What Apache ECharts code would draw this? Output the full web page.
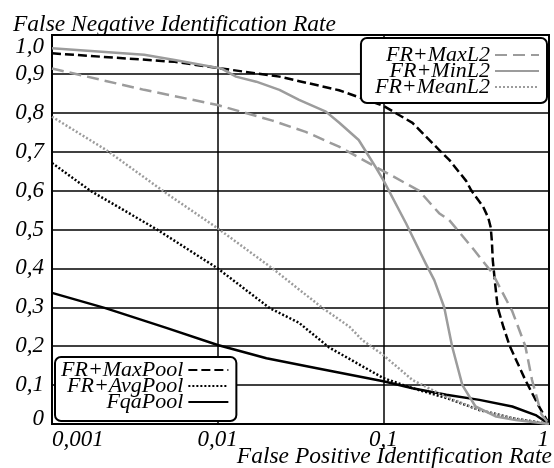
<!DOCTYPE html>
<html><head><meta charset="utf-8">
<script src="https://cdn.jsdelivr.net/npm/echarts@6/dist/echarts.min.js"></script>
<style>html,body{margin:0;padding:0;background:#fff}#c{width:554px;height:468px}</style>
</head><body><div id="c"></div>
<script>
// ---- data ----
const xTicks = [0.001, 0.01, 0.1, 1];
const yTicks = [0, 0.1, 0.2, 0.3, 0.4, 0.5, 0.6, 0.7, 0.8, 0.9, 1.0];

const maxPoolFpir = [0.001, 0.0055, 0.0105, 0.0236, 0.054, 0.1, 0.15, 0.226, 0.25, 0.316, 0.34, 0.40, 0.43, 0.445, 0.452, 0.458, 0.475, 0.49, 0.53, 0.58, 0.72, 0.87, 1];
const maxPoolFnir = [0.953, 0.931, 0.914, 0.893, 0.858, 0.818, 0.774, 0.697, 0.679, 0.625, 0.60, 0.559, 0.53, 0.505, 0.47, 0.42, 0.353, 0.30, 0.25, 0.2, 0.113, 0.045, 0];

const avgPoolFpir = [0.001, 0.0017, 0.0043, 0.01, 0.0206, 0.031, 0.047, 0.1, 0.15, 0.24, 0.38, 0.6, 1];
const avgPoolFnir = [0.671, 0.60, 0.50, 0.40, 0.298, 0.26, 0.197, 0.118, 0.092, 0.067, 0.036, 0.015, 0];

const fqaPoolFpir = [0.001, 0.0021, 0.0049, 0.01, 0.0197, 0.039, 0.1, 0.15, 0.24, 0.38, 0.6, 0.83, 1];
const fqaPoolFnir = [0.337, 0.298, 0.247, 0.203, 0.169, 0.144, 0.11, 0.092, 0.075, 0.062, 0.045, 0.023, 0];

const maxL2Fpir = [0.001, 0.0036, 0.01, 0.0214, 0.034, 0.054, 0.09, 0.164, 0.217, 0.25, 0.34, 0.455, 0.6, 0.72, 0.79, 0.9, 1];
const maxL2Fnir = [0.914, 0.859, 0.82, 0.78, 0.751, 0.713, 0.661, 0.60, 0.542, 0.524, 0.456, 0.388, 0.29, 0.2, 0.113, 0.025, 0];

const minL2Fpir = [0.001, 0.0036, 0.0055, 0.0105, 0.0129, 0.0171, 0.0236, 0.031, 0.045, 0.054, 0.071, 0.09, 0.1, 0.137, 0.18, 0.203, 0.233, 0.26, 0.30, 0.36, 0.48, 0.63, 1];
const minL2Fnir = [0.966, 0.949, 0.936, 0.914, 0.893, 0.88, 0.859, 0.833, 0.803, 0.775, 0.73, 0.66, 0.627, 0.516, 0.413, 0.37, 0.3, 0.2, 0.1, 0.045, 0.019, 0.01, 0];

const meanL2Fpir = [0.001, 0.00213, 0.0049, 0.01, 0.0214, 0.043, 0.0625, 0.0745, 0.1, 0.15, 0.238, 0.38, 0.6, 1];
const meanL2Fnir = [0.79, 0.704, 0.593, 0.503, 0.40, 0.298, 0.25, 0.216, 0.177, 0.113, 0.07, 0.036, 0.015, 0];

const seriesNames = ['FR+MaxPool', 'FR+AvgPool', 'FqaPool', 'FR+MaxL2', 'FR+MinL2', 'FR+MeanL2'];
const yTitle = 'False Negative Identification Rate';
const xTitle = 'False Positive Identification Rate';

// ---- chart ----
const FONT = 'Liberation Serif';
const GRAY = '#9c9c9c';
const zip = (a, b) => a.map((v, i) => [v, b[i]]);
const xfmt = v => {
  const n = Number(Number(v).toPrecision(6));
  return String(n).replace('.', ',');
};
const yfmt = v => {
  const n = Number(Number(v).toPrecision(6));
  if (n === 0) return '{z|0}';
  return n.toFixed(1).replace('.', ',');
};
const txt = { fontFamily: FONT, fontStyle: 'italic', fontSize: 22, color: '#000' };
const tick = Object.assign({}, txt, { fontSize: 23 });

function line(name, xs, ys, color, type, width) {
  return {
    name, type: 'line', data: zip(xs, ys), symbol: 'none', showSymbol: false,
    lineStyle: { color, type, width, cap: 'butt', join: 'round' }, itemStyle: { color },
    emphasis: { disabled: true }, animation: false
  };
}

const legendCommon = {
  orient: 'vertical', align: 'right', itemGap: -6, itemHeight: 10,
  backgroundColor: '#fff', borderColor: '#000', borderWidth: 2, borderRadius: 6,
  itemStyle: { opacity: 0, color: 'transparent', borderWidth: 0 },
  textStyle: Object.assign({}, txt), selectedMode: false
};

const chart = echarts.init(document.getElementById('c'), null, { renderer: 'canvas' });
chart.setOption({
  animation: false,
  backgroundColor: '#fff',
  grid: { left: 52, right: 5, top: 35, bottom: 44, show: true, borderColor: '#000', borderWidth: 2, backgroundColor: 'transparent' },
  xAxis: {
    type: 'log', logBase: 10, min: xTicks[0], max: xTicks[xTicks.length - 1],
    axisLine: { show: true, lineStyle: { color: '#000', width: 2 } },
    axisTick: { show: false },
    minorTick: { show: false },
    splitLine: { show: true, lineStyle: { color: '#000', width: 1.5 } },
    axisLabel: Object.assign({ margin: 4, formatter: v => xfmt(v), alignMinLabel: 'left', alignMaxLabel: 'right' }, tick)
  },
  yAxis: {
    type: 'value', min: yTicks[0], max: yTicks[yTicks.length - 1], interval: 0.1,
    axisLine: { show: true, lineStyle: { color: '#000', width: 2 } },
    axisTick: { show: false },
    splitLine: { show: true, lineStyle: { color: '#000', width: 1.5 } },
    axisLabel: Object.assign({
      margin: 8, formatter: v => yfmt(v), verticalAlignMinLabel: 'bottom', verticalAlignMaxLabel: 'top',
      rich: { z: Object.assign({ lineHeight: 11 }, tick) }
    }, tick)
  },
  legend: [
    Object.assign({}, legendCommon, {
      data: seriesNames.slice(3), right: 7, top: 38, itemWidth: 44,
      padding: [6, 7, 5, 14]
    }),
    Object.assign({}, legendCommon, {
      data: seriesNames.slice(0, 3), left: 55, top: 357, itemWidth: 40,
      padding: [2, 7, 8, 6]
    })
  ],
  graphic: [
    { type: 'text', left: 13, top: 13, style: { text: yTitle, font: 'italic 23.5px "Liberation Serif"', fill: '#000' } },
    { type: 'text', right: 2, top: 445, style: { text: xTitle, font: 'italic 23.5px "Liberation Serif"', fill: '#000' } }
  ],
  series: [
    line(seriesNames[0], maxPoolFpir, maxPoolFnir, '#000', [9, 4], 2.5),
    line(seriesNames[1], avgPoolFpir, avgPoolFnir, '#000', [2, 2], 2.5),
    line(seriesNames[2], fqaPoolFpir, fqaPoolFnir, '#000', 'solid', 2.5),
    line(seriesNames[3], maxL2Fpir, maxL2Fnir, GRAY, [12, 6], 2.5),
    line(seriesNames[4], minL2Fpir, minL2Fnir, GRAY, 'solid', 2.5),
    line(seriesNames[5], meanL2Fpir, meanL2Fnir, GRAY, [2, 2], 2.5)
  ]
});
</script></body></html>
